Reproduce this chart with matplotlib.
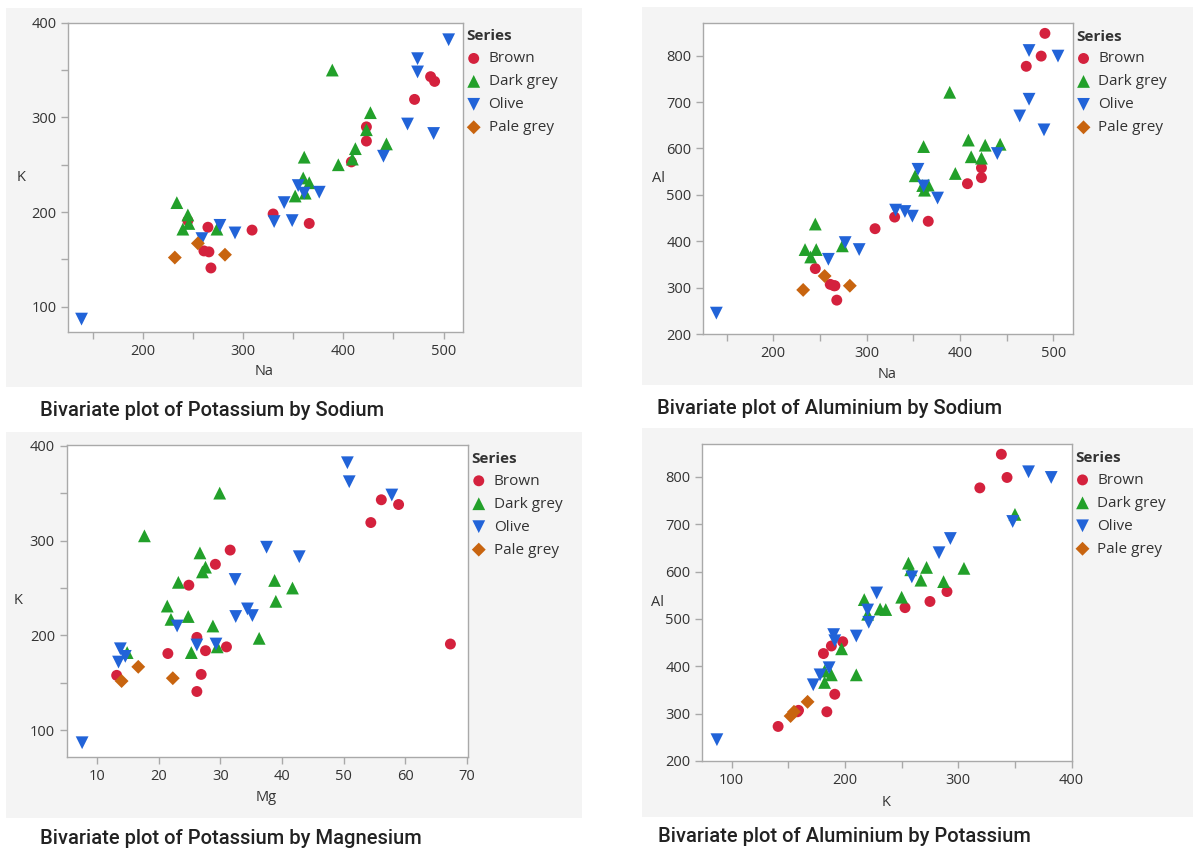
import matplotlib
matplotlib.use("Agg")
import matplotlib.pyplot as plt
from matplotlib.patches import Rectangle
from matplotlib.ticker import MultipleLocator

# one value per sample, same order across elements
brown_na = [245, 261, 266, 265, 268, 309, 330, 366, 408, 423, 423, 471, 487, 491]
brown_k = [191, 159, 158, 184, 141, 181, 198, 188, 253, 275, 290, 319, 343, 338]
brown_mg = [67.3, 26.9, 13.2, 27.6, 26.2, 21.5, 26.2, 31.0, 24.9, 29.2, 31.6, 54.4, 56.1, 58.9]
brown_al = [341, 307, 304, 304, 273, 427, 452, 443, 524, 537, 558, 777, 799, 848]

darkgrey_na = [234, 245, 240, 246, 274, 352, 360, 361, 362, 366, 389, 395, 409, 412, 423, 427, 443]
darkgrey_k = [210, 197, 182, 188, 182, 217, 236, 258, 220, 231, 350, 250, 256, 267, 287, 305, 272]
darkgrey_mg = [28.8, 36.3, 14.9, 29.5, 25.3, 22.0, 39.0, 38.8, 24.8, 21.4, 29.9, 41.7, 23.2, 27.1, 26.7, 17.7, 27.6]
darkgrey_al = [382, 437, 366, 382, 390, 541, 520, 604, 510, 521, 721, 546, 618, 582, 579, 607, 609]

olive_na = [139, 259, 277, 292, 331, 341, 349, 355, 361, 376, 440, 464, 474, 474, 490, 505]
olive_k = [87, 172, 186, 178, 190, 210, 191, 228, 220, 221, 259, 293, 362, 348, 283, 382]
olive_mg = [7.6, 13.5, 13.8, 14.6, 26.2, 23.0, 29.3, 34.4, 32.5, 35.2, 32.4, 37.5, 50.9, 57.8, 42.8, 50.6]
olive_al = [245, 361, 397, 382, 467, 464, 454, 555, 519, 493, 589, 670, 811, 706, 640, 799]

palegrey_na = [232, 255, 282]
palegrey_k = [152, 167, 155]
palegrey_mg = [14.0, 16.7, 22.3]
palegrey_al = [295, 325, 304]

series_names = ["Brown", "Dark grey", "Olive", "Pale grey"]
series_data = [
    {"Na": brown_na, "K": brown_k, "Mg": brown_mg, "Al": brown_al},
    {"Na": darkgrey_na, "K": darkgrey_k, "Mg": darkgrey_mg, "Al": darkgrey_al},
    {"Na": olive_na, "K": olive_k, "Mg": olive_mg, "Al": olive_al},
    {"Na": palegrey_na, "K": palegrey_k, "Mg": palegrey_mg, "Al": palegrey_al},
]
colors = ["#d4213d", "#22a02a", "#2163d8", "#c8640f"]
markers = ["o", "^", "v", "D"]
sizes = [62, 85, 85, 50]

W, H = 1193, 850
fig = plt.figure(figsize=(W / 100, H / 100), dpi=100)
fig.patch.set_facecolor("white")
plt.rcParams["font.family"] = ["Open Sans", "DejaVu Sans"]

GREY_BG = "#f4f4f4"
SPINE = "#a9a9a9"
TXT = "#333333"


def px_rect(x0, y0, x1, y1):
    return [x0 / W, 1 - y1 / H, (x1 - x0) / W, (y1 - y0) / H]


def panel(box, bg, xkey, ykey, xlim, ylim, xmajor, ymajor, xminor, yminor,
          caption, cap_xy):
    # grey card behind the plot
    r = px_rect(*bg)
    fig.add_artist(Rectangle((r[0], r[1]), r[2], r[3], transform=fig.transFigure,
                             facecolor=GREY_BG, edgecolor="none", zorder=-1))
    ax = fig.add_axes(px_rect(*box))
    ax.set_facecolor("white")
    for name, d, c, m, s in zip(series_names, series_data, colors, markers, sizes):
        ax.scatter(d[xkey], d[ykey], marker=m, s=s, color=c, edgecolors="none",
                   label=name, zorder=3)
    ax.set_xlim(*xlim)
    ax.set_ylim(*ylim)
    ax.xaxis.set_major_locator(MultipleLocator(xmajor))
    ax.yaxis.set_major_locator(MultipleLocator(ymajor))
    if xminor:
        ax.xaxis.set_minor_locator(MultipleLocator(xminor))
    if yminor:
        ax.yaxis.set_minor_locator(MultipleLocator(yminor))
    for sp in ax.spines.values():
        sp.set_color(SPINE)
        sp.set_linewidth(1.0)
    ax.tick_params(which="both", direction="out", color=SPINE, labelcolor=TXT,
                   labelsize=10.5, length=5, width=1)
    ax.set_xlabel(xkey, fontsize=10.5, color=TXT)
    ax.set_ylabel(ykey, fontsize=10.5, color=TXT, rotation=0)
    ax.xaxis.set_label_coords(0.497, -0.13)
    ax.yaxis.set_label_coords(-0.12, 0.5)
    ax.yaxis.label.set_va("center")
    ax.xaxis.label.set_va("center")
    leg = ax.legend(loc="upper left", bbox_to_anchor=(1.008, 0.978), frameon=False,
                    title="Series", alignment="left", fontsize=11,
                    title_fontproperties={"weight": "bold", "size": 11},
                    borderpad=0, borderaxespad=0, handlelength=0.95,
                    handletextpad=0.5, labelspacing=0.52, scatterpoints=1)
    for t in leg.get_texts():
        t.set_color(TXT)
    leg.get_title().set_color(TXT)
    fig.text(cap_xy[0] / W, 1 - cap_xy[1] / H, caption, fontsize=14.5,
             family=["Roboto", "DejaVu Sans"], weight="medium", color="#222222",
             va="center", ha="left")
    return ax


panel((68.3, 22.7, 463.3, 331.7), (6, 8, 582, 387), "Na", "K",
      (125.8, 519.6), (73.7, 400), 100, 100, 50, 50,
      "Bivariate plot of Potassium by Sodium", (40, 410))
panel((703.3, 22.7, 1073.3, 334), (642, 7, 1193, 385), "Na", "Al",
      (125, 521.4), (200, 871), 100, 100, 50, None,
      "Bivariate plot of Aluminium by Sodium", (657, 408))
panel((66.7, 445, 468.3, 756.7), (6, 432, 582, 818), "Mg", "K",
      (5.1, 70.2), (72.3, 400.7), 10, 100, None, 50,
      "Bivariate plot of Potassium by Magnesium", (40, 838))
panel((702.3, 444, 1072.3, 761), (642, 428, 1193, 817), "K", "Al",
      (74.1, 400.6), (200, 869.7), 100, 100, 50, None,
      "Bivariate plot of Aluminium by Potassium", (658, 837))

fig.savefig("out.png", dpi=100)
